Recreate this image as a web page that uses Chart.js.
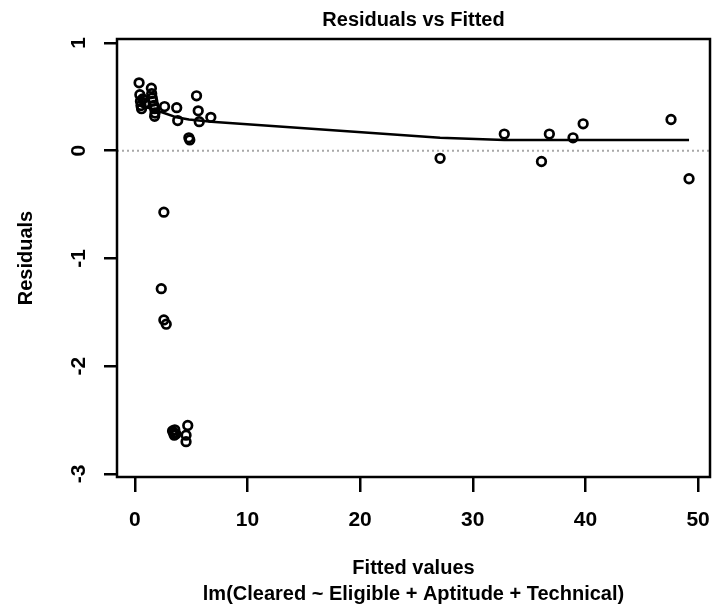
<!DOCTYPE html>
<html>
<head>
<meta charset="utf-8">
<script src="https://cdn.jsdelivr.net/npm/chart.js@4"></script>
<style>
  html, body { margin: 0; padding: 0; background: #fff; }
  #wrap { width: 717px; height: 614px; }
</style>
</head>
<body>
<div id="wrap"><canvas id="c" width="717" height="614"></canvas></div>
<script>
(function () {
  'use strict';

  // fitted values and residuals
  var fittedX = [
    0.38, 0.45, 0.5, 0.55, 0.6, 0.7, 0.9,
    1.47, 1.5, 1.55, 1.6, 1.7, 1.76, 1.8, 1.76,
    2.64, 3.72, 3.81, 5.48, 5.63, 5.72, 6.75, 4.80, 4.88,
    2.58, 2.35, 2.58, 2.79,
    3.35, 3.45, 3.55, 3.65, 3.5, 4.70, 4.55, 4.55,
    27.1, 32.8, 36.1, 36.8, 38.9, 39.8, 47.6, 49.2
  ];
  var residY = [
    0.63, 0.52, 0.46, 0.42, 0.39, 0.48, 0.44,
    0.58, 0.53, 0.49, 0.46, 0.42, 0.39, 0.35, 0.32,
    0.41, 0.40, 0.28, 0.51, 0.37, 0.27, 0.31, 0.12, 0.10,
    -0.57, -1.28, -1.57, -1.61,
    -2.60, -2.62, -2.59, -2.63, -2.64, -2.55, -2.64, -2.70,
    -0.07, 0.155, -0.10, 0.155, 0.12, 0.25, 0.29, -0.26
  ];

  // smoother line
  var smoothX = [0.4, 1.5, 2.6, 3.7, 4.8, 5.7, 6.8, 27.1, 32.8, 36.1, 38.9, 39.8, 47.6, 49.2];
  var smoothY = [0.42, 0.39, 0.35, 0.31, 0.29, 0.28, 0.27, 0.12, 0.10, 0.10, 0.10, 0.10, 0.10, 0.10];

  var xTicks = [0, 10, 20, 30, 40, 50];
  var yTicks = [-3, -2, -1, 0, 1];

  var X_MIN = -1.58, X_MAX = 51.06;
  var FONT = '"Liberation Sans", Arial, Helvetica, sans-serif';

  function zip(xs, ys) {
    return xs.map(function (x, i) { return { x: x, y: ys[i] }; });
  }

  function noPad(s) {
    s.paddingLeft = 0; s.paddingRight = 0; s.paddingTop = 0; s.paddingBottom = 0;
  }

  var framePlugin = {
    id: 'frame',
    beforeDatasetsDraw: function (chart) {
      var ctx = chart.ctx, a = chart.chartArea;
      var y0 = chart.scales.y.getPixelForValue(0);
      ctx.save();
      ctx.strokeStyle = '#a8a8a8';
      ctx.lineWidth = 2;
      ctx.setLineDash([2, 3]);
      ctx.beginPath();
      ctx.moveTo(a.left, y0);
      ctx.lineTo(a.right, y0);
      ctx.stroke();
      ctx.restore();
    },
    afterDraw: function (chart) {
      var ctx = chart.ctx, a = chart.chartArea;
      ctx.save();
      ctx.strokeStyle = '#000';
      ctx.lineWidth = 2.5;
      ctx.strokeRect(a.left, a.top, a.right - a.left, a.bottom - a.top);
      ctx.restore();
    }
  };

  new Chart(document.getElementById('c'), {
    type: 'scatter',
    data: {
      datasets: [
        {
          label: 'smooth',
          type: 'line',
          data: zip(smoothX, smoothY),
          borderColor: '#000',
          borderWidth: 2.5,
          pointRadius: 0,
          fill: false,
          tension: 0,
          order: 2
        },
        {
          label: 'residuals',
          data: zip(fittedX, residY),
          borderColor: '#000',
          backgroundColor: 'rgba(0,0,0,0)',
          borderWidth: 2.7,
          pointRadius: 4.3,
          order: 1
        }
      ]
    },
    options: {
      responsive: false,
      animation: false,
      layout: { padding: { left: 0, right: 2, top: 0, bottom: 0 } },
      plugins: {
        legend: { display: false },
        tooltip: { enabled: false },
        title: { display: false }
      },
      scales: {
        top: {
          type: 'linear',
          position: 'top',
          min: X_MIN,
          max: X_MAX,
          afterFit: function (s) { s.height = 39; noPad(s); },
          grid: { display: false },
          border: { display: false },
          ticks: { display: false },
          title: {
            display: true,
            text: 'Residuals vs Fitted',
            color: '#000',
            font: { family: FONT, size: 20, weight: 'bold' },
            padding: { top: 8, bottom: 0 }
          }
        },
        x: {
          type: 'linear',
          min: X_MIN,
          max: X_MAX,
          afterBuildTicks: function (s) { s.ticks = xTicks.map(function (v) { return { value: v }; }); },
          afterFit: function (s) { s.height = 137; noPad(s); },
          grid: { drawOnChartArea: false, drawTicks: true, tickLength: 15, color: '#000', lineWidth: 2.5 },
          border: { display: false },
          ticks: {
            color: '#000',
            padding: 16,
            maxRotation: 0,
            font: { family: FONT, size: 21, weight: 'bold' },
            callback: function (v) { return String(v); }
          },
          title: {
            display: true,
            text: ['Fitted values', 'lm(Cleared ~ Eligible + Aptitude + Technical)'],
            color: '#000',
            font: { family: FONT, size: 20, weight: 'bold', lineHeight: 1.3 },
            padding: { top: 0, bottom: 7 }
          }
        },
        y: {
          type: 'linear',
          min: -3.028,
          max: 1.037,
          afterBuildTicks: function (s) { s.ticks = yTicks.map(function (v) { return { value: v }; }); },
          afterFit: function (s) { s.width = 117; noPad(s); },
          grid: { drawOnChartArea: false, drawTicks: true, tickLength: 13, color: '#000', lineWidth: 2.5 },
          border: { display: false },
          ticks: {
            color: '#000',
            padding: 15,
            minRotation: 90,
            maxRotation: 90,
            crossAlign: 'center',
            font: { family: FONT, size: 21, weight: 'bold' },
            callback: function (v) { return String(v); }
          },
          title: {
            display: true,
            text: 'Residuals',
            color: '#000',
            font: { family: FONT, size: 20, weight: 'bold' },
            padding: { top: 14, bottom: 0 }
          }
        }
      }
    },
    plugins: [framePlugin]
  });
})();
</script>
</body>
</html>
